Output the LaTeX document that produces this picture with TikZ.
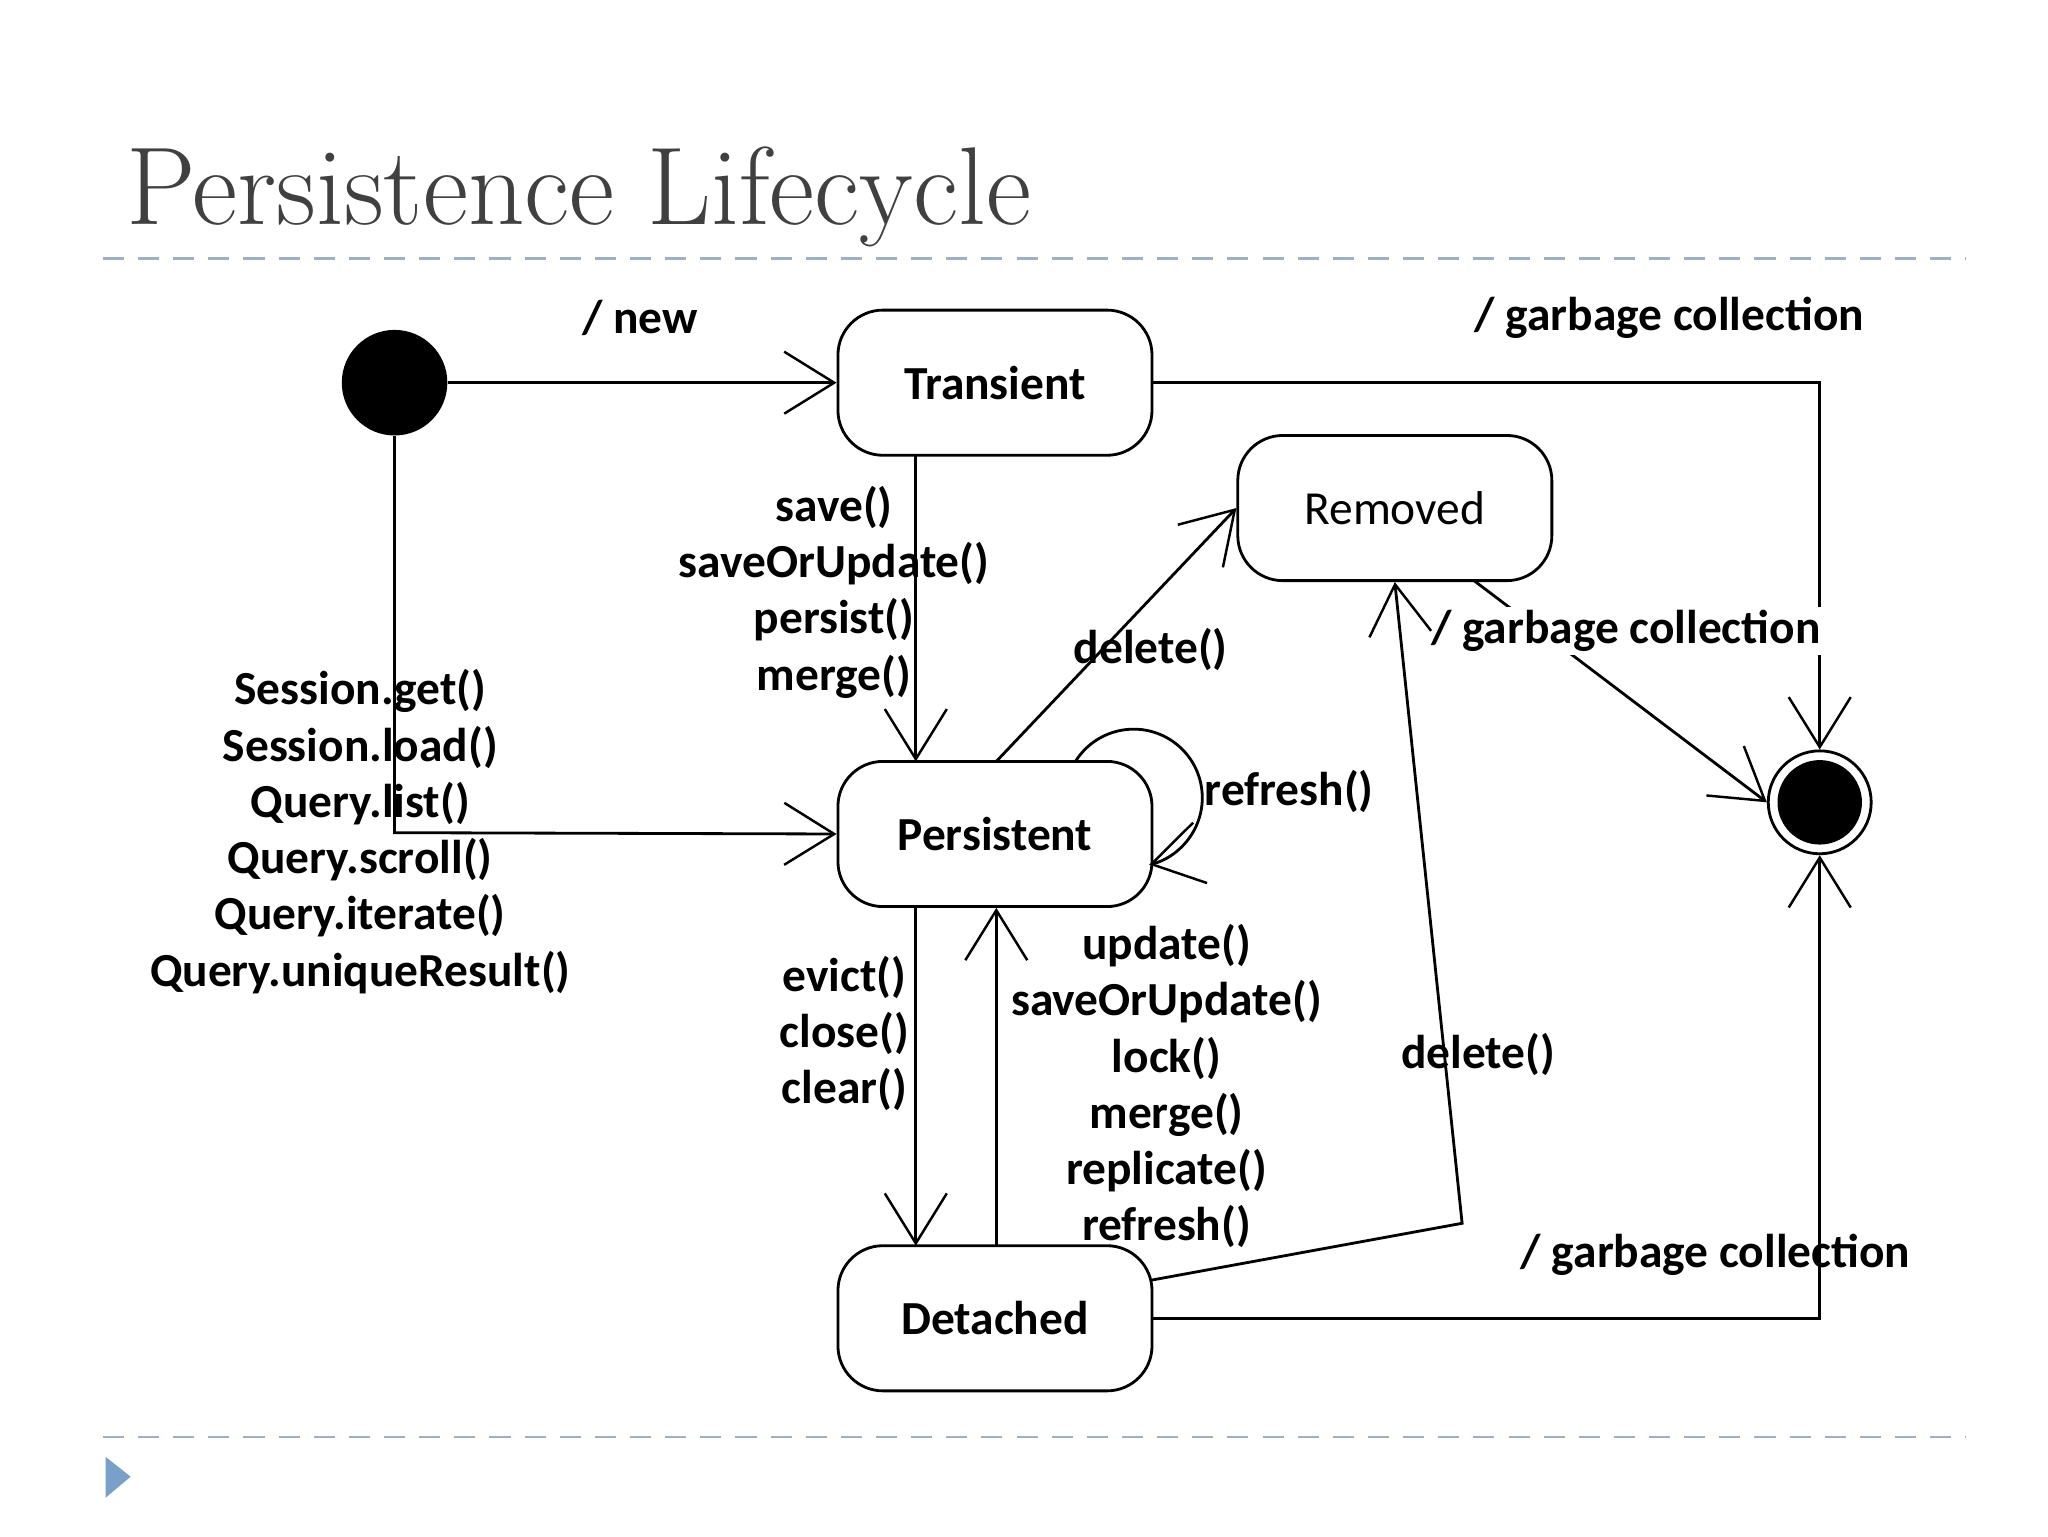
\documentclass[tikz,border=0pt]{standalone}
\usepackage{fontspec}
\setmainfont{Carlito}
\newfontfamily\titlefont{Latin Modern Roman}
\usetikzlibrary{arrows.meta,calc}
\definecolor{rulecol}{RGB}{160,176,196}
\definecolor{tricol}{RGB}{120,160,200}
\definecolor{titlecol}{RGB}{64,64,64}
\begin{document}
\begin{tikzpicture}[x=0.013196cm,y=-0.013196cm,
  state/.style={draw,rounded corners=0.45cm,minimum width=238*0.013196cm,
    minimum height=110*0.013196cm,font=\fontsize{13.5}{16}\selectfont\bfseries,line width=0.8pt},
  tr/.style={-{Straight Barb[length=0.5cm,width=0.62cm,line width=0.7pt]},line width=0.8pt},
  lbl/.style={font=\fontsize{13.5}{16}\selectfont\bfseries,inner sep=0pt,align=center}]
\useasboundingbox (0,0) rectangle (1552,1164);
\fill[white] (0,0) rectangle (1552,1164);
% slide frame
\node[anchor=base west,inner sep=0pt,text=titlecol,font=\titlefont\fontsize{31.5}{36}\selectfont] (title) at (95,170) {Persistence Lifecycle};
\draw[rulecol,line width=0.8pt,dash pattern=on 6pt off 4pt] (78,196) -- (1490,196);
\draw[rulecol,line width=0.8pt,dash pattern=on 6pt off 4pt] (78,1089) -- (1490,1089);
\fill[tricol] (80,1104) -- (99,1119) -- (80,1135) -- cycle;
% states
\node[circle,fill=black,minimum size=80*0.013196cm,inner sep=0pt] (init) at (299,290) {};
\node[state] (trans) at (754,290) {Transient};
\node[state,font=\fontsize{13.5}{16}\selectfont] (rem) at (1057,385) {Removed};
\node[state] (pers) at (754,632) {Persistent};
\node[state] (det) at (754,999) {Detached};
\node[circle,draw,line width=0.8pt,minimum size=78*0.013196cm,inner sep=0pt] (fin) at (1379,608) {};
\fill (fin.center) circle (32*0.013196cm);
% transitions
\draw[tr] (init) -- (trans.west);
\node[lbl] (lnew) at (485,241) {/ new};
\draw[tr] (trans.east) -- (1379,290) -- (fin.north);
\node[lbl] (lgc1) at (1265,241) {/ garbage collection};
\draw[tr] (694,345) -- (694,577);
\node[lbl,anchor=north] (lsave) at (632,368) {save()\\saveOrUpdate()\\persist()\\merge()};
\draw[tr] (init.south) -- (299,631) -- (pers.west);
\node[lbl,anchor=north] (lget) at (273,507) {Session.get()\\Session.load()\\Query.list()\\Query.scroll()\\Query.iterate()\\Query.uniqueResult()};
\draw[tr] (755,577) -- (rem.west);
\node[lbl] (ldel1) at (872,492) {delete()};
\coordinate (loopstart) at (815,577);
\draw[tr] (loopstart) arc[start angle=212,end angle=437,radius=52];
\node[lbl] (lref) at (977,600) {refresh()};
\draw[tr] (1117,440) -- (fin.west);
\node[lbl,fill=white,inner sep=1pt] (lgc2) at (1232,478) {/ garbage collection};
\draw[tr] (694,688) -- (694,944);
\node[lbl,anchor=north] (levict) at (640,724) {evict()\\close()\\clear()};
\draw[tr] (755,944) -- (755,688);
\node[lbl,anchor=north] (lupd) at (884,700) {update()\\saveOrUpdate()\\lock()\\merge()\\replicate()\\refresh()};
\coordinate (bend) at (1108,927);
\draw[tr] (873,970) -- (bend) -- (rem.south);
\node[lbl] (ldel2) at (1120,799) {delete()};
\draw[tr] (det.east) -- (1379,999) -- (fin.south);
\node[lbl] (lgc3) at (1300,951) {/ garbage collection};
\end{tikzpicture}
\end{document}
